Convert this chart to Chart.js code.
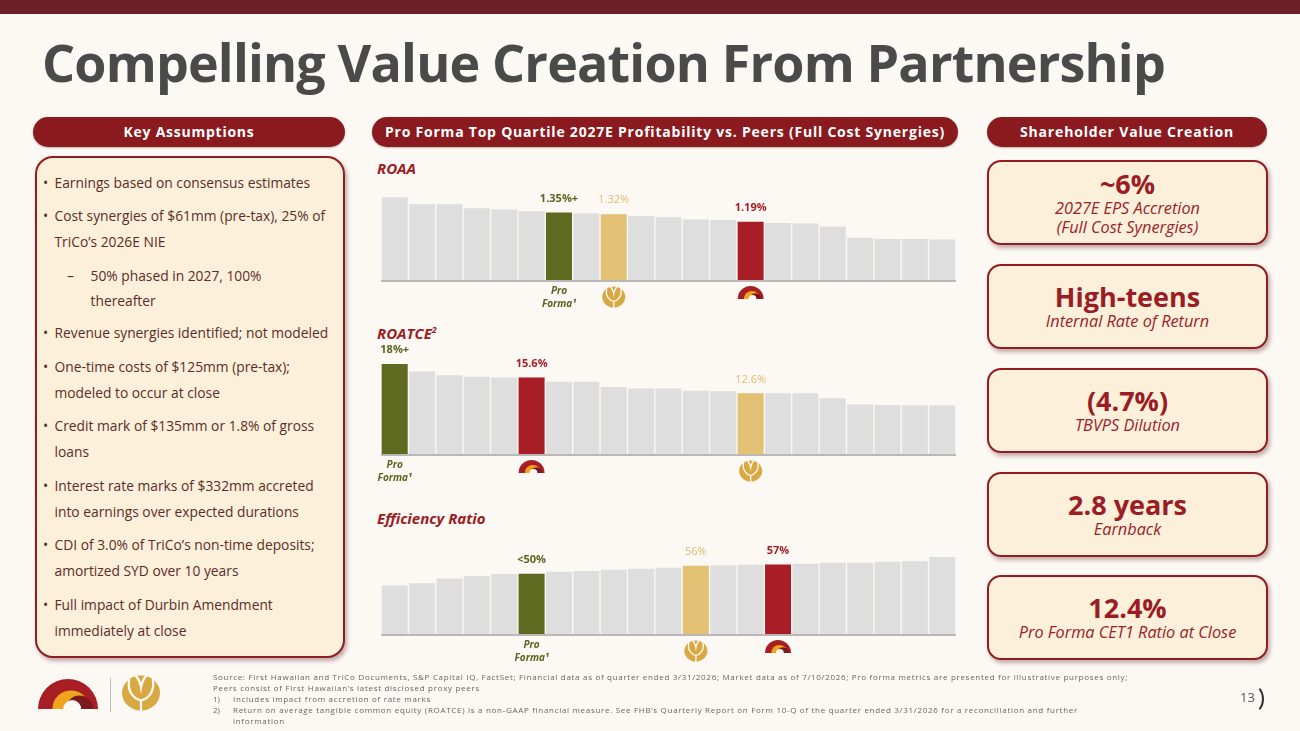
<!DOCTYPE html>
<html>
<head>
<meta charset="utf-8">
<script src="https://cdn.jsdelivr.net/npm/chart.js@4.4.1/dist/chart.umd.min.js"></script>
<style>
  body { margin: 0; background: #fcf8f3; font-family: 'Open Sans', sans-serif; }
  #slide { position: relative; width: 1300px; height: 731px; overflow: hidden; background: #fcf8f3; }
  .topbar { position: absolute; left: 0; top: 0; width: 1300px; height: 14px; background: #6b2027; }
  .title { position: absolute; left: 42px; top: 36px; font-size: 52px; font-weight: 700; color: #4a4a4a; line-height: 52px; white-space: nowrap; }
  .pill { position: absolute; top: 117px; height: 30px; border-radius: 15px; background: #8b1a1f; color: #fff; font-weight: 700; font-size: 14px; line-height: 30px; text-align: center; white-space: nowrap; box-shadow: 0 1px 2px rgba(0,0,0,.25); }
  .leftbox { position: absolute; left: 35px; top: 156px; width: 310px; height: 502px; box-sizing: border-box; border: 2.5px solid #8f1d22; border-radius: 18px; background: #fdf0da; box-shadow: 2px 3px 4px rgba(80,20,20,.35); padding-top: 11.5px; }
  .item { position: relative; padding-left: 17.5px; line-height: 26px; font-size: 13.8px; color: #5b2d28; margin-bottom: 7.5px; white-space: nowrap; }
  .item::before { content: '•'; position: absolute; left: 6px; top: 0; }
  .sub { padding-left: 53.5px; line-height: 25px; }
  .sub::before { content: '–'; left: 30px; }
  .vbox { position: absolute; left: 987px; width: 281px; height: 85px; box-sizing: border-box; border: 2.5px solid #8f1d22; border-radius: 14px; background: #fdf0da; box-shadow: 2px 3px 4px rgba(80,20,20,.35); display: flex; flex-direction: column; justify-content: center; align-items: center; color: #9b1c24; }
  .big { font-weight: 700; font-size: 27px; line-height: 31px; }
  .small { font-style: italic; font-size: 16.3px; line-height: 19.5px; color: #9a2229; }
  .ctitle { position: absolute; left: 377px; font-weight: 700; font-style: italic; font-size: 15px; color: #9b1c24; line-height: 20px; }
  canvas.chart { position: absolute; left: 372px; }
  .foot { position: absolute; left: 213px; top: 671px; font-size: 8px; line-height: 11px; color: #666; white-space: nowrap; }
  .foot .n { display: inline-block; width: 20px; letter-spacing: 0; }
  .sep { position: absolute; left: 110px; top: 678px; width: 1px; height: 34px; background: #bbb; }
  .pagenum { position: absolute; left: 1240px; top: 688px; font-size: 13px; color: #555; line-height: 18px; }
  .bracket { position: absolute; left: 1240px; top: 684px; width: 24px; height: 30px; box-sizing: border-box; border: 2px solid transparent; border-right-color: #333; border-radius: 50%; }
</style>
</head>
<body>
<div id="slide">
  <div class="topbar"></div>
  <div class="title" id="title" data-w="1123">Compelling Value Creation From Partnership</div>

  <div class="pill" style="left:33px;width:312px;"><span class="fit" data-w="131">Key Assumptions</span></div>
  <div class="pill" style="left:372px;width:586px;"><span class="fit" data-w="560">Pro Forma Top Quartile 2027E Profitability vs. Peers (Full Cost Synergies)</span></div>
  <div class="pill" style="left:987px;width:280px;"><span class="fit" data-w="214">Shareholder Value Creation</span></div>

  <div class="leftbox">
    <div class="item">Earnings based on consensus estimates</div>
    <div class="item">Cost synergies of $61mm (pre-tax), 25% of<br>TriCo’s 2026E NIE</div>
    <div class="item sub">50% phased in 2027, 100%<br>thereafter</div>
    <div class="item">Revenue synergies identified; not modeled</div>
    <div class="item">One-time costs of $125mm (pre-tax);<br>modeled to occur at close</div>
    <div class="item">Credit mark of $135mm or 1.8% of gross<br>loans</div>
    <div class="item">Interest rate marks of $332mm accreted<br>into earnings over expected durations</div>
    <div class="item">CDI of 3.0% of TriCo’s non-time deposits;<br>amortized SYD over 10 years</div>
    <div class="item">Full impact of Durbin Amendment<br>immediately at close</div>
  </div>

  <div class="ctitle" style="top:158px;">ROAA</div>
  <div class="ctitle" style="top:320px;">ROATCE<sup style="font-size:9px;">2</sup></div>
  <div class="ctitle" style="top:508px;">Efficiency Ratio</div>

  <canvas class="chart" id="roaaChart" width="594" height="140" style="top:175px;"></canvas>
  <canvas class="chart" id="roatceChart" width="594" height="150" style="top:340px;"></canvas>
  <canvas class="chart" id="effChart" width="594" height="140" style="top:530px;"></canvas>

  <div class="vbox" style="top:160px;">
    <div class="big">~6%</div>
    <div class="small">2027E EPS Accretion</div>
    <div class="small">(Full Cost Synergies)</div>
  </div>
  <div class="vbox" style="top:264px;">
    <div class="big">High-teens</div>
    <div class="small">Internal Rate of Return</div>
  </div>
  <div class="vbox" style="top:368px;">
    <div class="big">(4.7%)</div>
    <div class="small">TBVPS Dilution</div>
  </div>
  <div class="vbox" style="top:472px;">
    <div class="big">2.8 years</div>
    <div class="small">Earnback</div>
  </div>
  <div class="vbox" style="top:575px;">
    <div class="big">12.4%</div>
    <div class="small">Pro Forma CET1 Ratio at Close</div>
  </div>

  <canvas id="footLogos" width="150" height="60" style="position:absolute;left:25px;top:664px;"></canvas>
  <div class="sep"></div>
  <div class="foot" id="foot">
    <span id="footFirst">Source: First Hawaiian and TriCo Documents, S&amp;P Capital IQ, FactSet; Financial data as of quarter ended 3/31/2026; Market data as of 7/10/2026; Pro forma metrics are presented for illustrative purposes only;</span><br>
    Peers consist of First Hawaiian’s latest disclosed proxy peers<br>
    <span class="n">1)</span>Includes impact from accretion of rate marks<br>
    <span class="n">2)</span>Return on average tangible common equity (ROATCE) is a non-GAAP financial measure. See FHB’s Quarterly Report on Form 10-Q of the quarter ended 3/31/2026 for a reconciliation and further<br>
    <span class="n"></span>information
  </div>
  <div class="pagenum">13</div>
  <div class="bracket"></div>
</div>

<script>
// ROAA (%), peers ranked, with pro forma and the two banks in place
const roaaBanks = ['Peer', 'Peer', 'Peer', 'Peer', 'Peer', 'Peer', 'Pro Forma', 'Peer', 'TriCo', 'Peer', 'Peer',
                   'Peer', 'Peer', 'First Hawaiian', 'Peer', 'Peer', 'Peer', 'Peer', 'Peer', 'Peer', 'Peer'];
const roaaValues = [1.61, 1.49, 1.49, 1.42, 1.40, 1.37, 1.35, 1.33, 1.32, 1.29, 1.27,
                    1.23, 1.22, 1.19, 1.17, 1.16, 1.11, 0.92, 0.90, 0.90, 0.89];
const roaaCallouts = { 'Pro Forma': '1.35%+', 'TriCo': '1.32%', 'First Hawaiian': '1.19%' };

// ROATCE (%)
const roatceBanks = ['Pro Forma', 'Peer', 'Peer', 'Peer', 'Peer', 'First Hawaiian', 'Peer', 'Peer', 'Peer', 'Peer', 'Peer',
                     'Peer', 'Peer', 'TriCo', 'Peer', 'Peer', 'Peer', 'Peer', 'Peer', 'Peer', 'Peer'];
const roatceValues = [18.1, 16.7, 16.0, 15.7, 15.6, 15.6, 14.8, 14.8, 13.8, 13.5, 13.5,
                      13.1, 13.0, 12.6, 12.6, 12.6, 11.7, 10.5, 10.4, 10.3, 10.3];
const roatceCallouts = { 'Pro Forma': '18%+', 'TriCo': '12.6%', 'First Hawaiian': '15.6%' };

// Efficiency ratio (%)
const effBanks = ['Peer', 'Peer', 'Peer', 'Peer', 'Peer', 'Pro Forma', 'Peer', 'Peer', 'Peer', 'Peer', 'Peer',
                  'TriCo', 'Peer', 'Peer', 'First Hawaiian', 'Peer', 'Peer', 'Peer', 'Peer', 'Peer', 'Peer'];
const effValues = [41.3, 43.0, 46.5, 48.3, 49.8, 50.0, 51.5, 52.0, 53.0, 53.8, 54.5,
                   56.0, 56.2, 56.8, 57.0, 57.5, 58.3, 58.3, 59.0, 59.3, 62.5];
const effCallouts = { 'Pro Forma': '<50%', 'TriCo': '56%', 'First Hawaiian': '57%' };

const BG = '#fcf8f3';
const barColors = { 'Pro Forma': '#5f6a21', 'TriCo': '#e2c174', 'First Hawaiian': '#a81d26', 'Peer': '#dedede' };
const calloutStyle = {
    'Pro Forma': { color: '#5a6420', font: '700 11px "Open Sans"' },
    'TriCo': { color: '#dfbd70', font: '400 11px "Open Sans"' },
    'First Hawaiian': { color: '#a51d26', font: '700 11px "Open Sans"' }
};

// First Hawaiian arches, sitting on a flat base
function drawFH(ctx, cx, base, R) {
    const half = (x, r, color) => {
        ctx.beginPath();
        ctx.arc(x, base, r, Math.PI, 0);
        ctx.closePath();
        ctx.fillStyle = color;
        ctx.fill();
    };
    half(cx, R, '#a81e25');
    half(cx + R * 0.1, R * 0.62, '#f0a41e');
    half(cx + R * 0.38, R * 0.45, '#7a1a1e');
    half(cx + R * 0.14, R * 0.3, BG);
}

// TriCo leaf mark
function drawTriCo(ctx, cx, cy, rx, ry) {
    ctx.save();
    ctx.fillStyle = '#d8a943';
    ctx.beginPath();
    ctx.ellipse(cx, cy, rx, ry, 0, 0, Math.PI * 2);
    ctx.fill();
    ctx.strokeStyle = BG;
    ctx.lineWidth = Math.max(1.3, ry * 0.13);
    ctx.lineCap = 'round';
    ctx.beginPath();
    ctx.moveTo(cx - rx * 0.62, cy - ry * 0.78);
    ctx.bezierCurveTo(cx - rx * 0.75, cy - ry * 0.05, cx - rx * 0.35, cy + ry * 0.35, cx, cy + ry * 0.42);
    ctx.bezierCurveTo(cx + rx * 0.35, cy + ry * 0.35, cx + rx * 0.75, cy - ry * 0.05, cx + rx * 0.62, cy - ry * 0.78);
    ctx.moveTo(cx, cy + ry * 0.42);
    ctx.lineTo(cx, cy + ry);
    ctx.moveTo(cx - rx * 0.28, cy - ry);
    ctx.quadraticCurveTo(cx - rx * 0.05, cy - ry * 0.7, cx, cy - ry * 0.35);
    ctx.quadraticCurveTo(cx + rx * 0.05, cy - ry * 0.7, cx + rx * 0.28, cy - ry);
    ctx.stroke();
    ctx.restore();
}

// baseline, value callouts above and bank markers below the highlighted bars
const markerPlugin = {
    id: 'markers',
    afterDatasetsDraw(chart, args, opts) {
        const { ctx, chartArea } = chart;
        const bars = chart.getDatasetMeta(0).data;
        const names = chart.data.labels;
        ctx.save();
        ctx.strokeStyle = '#b8b8b8';
        ctx.lineWidth = 2;
        ctx.beginPath();
        ctx.moveTo(chartArea.left, chartArea.bottom + 1);
        ctx.lineTo(chartArea.right, chartArea.bottom + 1);
        ctx.stroke();

        ctx.textAlign = 'center';
        ctx.textBaseline = 'middle';
        bars.forEach((bar, i) => {
            const name = names[i];
            if (name === 'Peer') return;
            const st = calloutStyle[name];
            ctx.fillStyle = st.color;
            ctx.font = st.font;
            ctx.fillText(opts.callouts[name], bar.x, bar.y - 14);

            const b = chartArea.bottom;
            if (name === 'Pro Forma') {
                ctx.fillStyle = '#5a6420';
                ctx.font = 'italic 700 10px "Open Sans"';
                ctx.fillText('Pro', bar.x, b + 11);
                ctx.fillText('Forma¹', bar.x, b + 24);
            } else if (name === 'TriCo') {
                drawTriCo(ctx, bar.x, b + 17, 11.5, 10.5);
            } else {
                drawFH(ctx, bar.x, b + 19, 13);
            }
        });
        ctx.restore();
    }
};

function makeChart(id, banks, values, callouts, yMin, yMax, padTop, padBottom) {
    new Chart(document.getElementById(id), {
        type: 'bar',
        data: {
            labels: banks,
            datasets: [{
                data: values,
                backgroundColor: banks.map(b => barColors[b]),
                borderWidth: 0,
                barPercentage: 0.95,
                categoryPercentage: 1
            }]
        },
        options: {
            responsive: false,
            animation: false,
            layout: { padding: { left: 9, right: 10, top: padTop, bottom: padBottom } },
            scales: {
                x: { display: false },
                y: { display: false, min: yMin, max: yMax }
            },
            plugins: {
                legend: { display: false },
                tooltip: { enabled: false },
                markers: { callouts: callouts }
            }
        },
        plugins: [markerPlugin]
    });
}

makeChart('roaaChart', roaaBanks, roaaValues, roaaCallouts, 0.2, 1.8, 11, 35);
makeChart('roatceChart', roatceBanks, roatceValues, roatceCallouts, 1.2, 20, 14, 36);
makeChart('effChart', effBanks, effValues, effCallouts, 5, 70, 17, 36);

// footer logos
const fctx = document.getElementById('footLogos').getContext('2d');
drawFH(fctx, 43, 45, 30);
drawTriCo(fctx, 116, 29, 19, 17.5);

// squeeze headings to the widths used on the slide
function fitWidth(el) {
    const target = +el.dataset.w;
    const w = el.getBoundingClientRect().width;
    const n = el.textContent.length;
    el.style.letterSpacing = ((target - w) / n).toFixed(3) + 'px';
}
document.querySelectorAll('.fit, #title').forEach(fitWidth);

// footnotes are set with loose tracking
const firstLine = document.getElementById('footFirst');
const trackPx = (915 - firstLine.getBoundingClientRect().width) / firstLine.textContent.length;
document.getElementById('foot').style.letterSpacing = trackPx.toFixed(3) + 'px';
</script>
</body>
</html>
